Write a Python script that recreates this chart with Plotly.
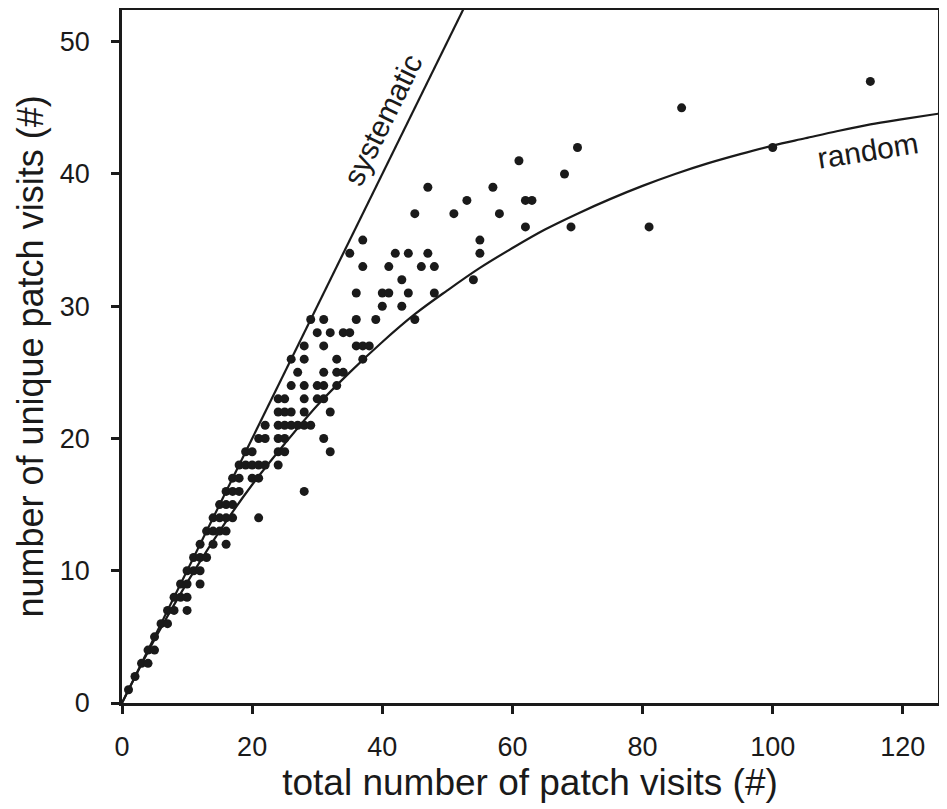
import plotly.graph_objects as go

rows = {
    1: [1], 2: [2], 3: [3, 4], 4: [4, 5], 5: [5], 6: [6, 7], 7: [7, 8, 10],
    8: [8, 9, 10], 9: [9, 10, 12], 10: [10, 11, 12], 11: [11, 12, 13], 12: [12, 14, 16],
    13: [13, 14, 15, 16], 14: [14, 15, 16, 17, 21], 15: [15, 16, 17], 16: [16, 17, 18, 28],
    17: [17, 18, 20, 21], 18: [18, 19, 20, 21, 22, 24], 19: [19, 20, 24, 25, 32],
    20: [21, 22, 24, 25, 31], 21: [22, 24, 25, 26, 27, 28, 29], 22: [24, 25, 26, 28, 32],
    23: [24, 25, 28, 30, 31], 24: [26, 28, 30, 31, 33], 25: [27, 31, 33, 34],
    26: [26, 28, 33, 37], 27: [28, 31, 36, 37, 38], 28: [30, 32, 34, 35],
    29: [29, 31, 36, 39, 45], 30: [40, 43], 31: [36, 40, 41, 44, 48], 32: [43, 54],
    33: [37, 41, 46, 48], 34: [35, 42, 44, 47, 55], 35: [37, 55], 36: [62, 69, 81],
    37: [45, 51, 58], 38: [53, 62, 63], 39: [47, 57], 40: [68], 41: [61],
    42: [70, 100], 45: [86], 47: [115],
}
obs_x = [x for y, xs in rows.items() for x in xs]
obs_y = [y for y, xs in rows.items() for x in xs]

# "systematic" reference line (every visit is a new patch)
sys_x = [0, 60]
sys_y = [0, 60]

# "random" reference curve
rand_x = [0, 5, 10, 15, 20, 25, 30, 35, 40, 45, 50, 55, 60, 65, 70, 75, 80, 85, 90,
          95, 100, 105, 110, 115, 120, 126]
rand_y = [0, 4.8, 9.1, 13.0, 16.5, 19.6, 22.5, 25.0, 27.3, 29.4, 31.2, 32.9, 34.4, 35.8,
          37.0, 38.1, 39.1, 40.0, 40.8, 41.5, 42.15, 42.7, 43.25, 43.75, 44.15, 44.6]

x_ticks = [0, 20, 40, 60, 80, 100, 120]
y_ticks = [0, 10, 20, 30, 40, 50]

FONT = "Liberation Sans"
INK = "#1a1a1a"

fig = go.Figure()
fig.add_trace(go.Scatter(x=sys_x, y=sys_y, mode="lines",
                         line=dict(color=INK, width=2.2), hoverinfo="skip", showlegend=False))
fig.add_trace(go.Scatter(x=rand_x, y=rand_y, mode="lines", line_shape="spline",
                         line=dict(color=INK, width=2.2), hoverinfo="skip", showlegend=False))
fig.add_trace(go.Scatter(x=obs_x, y=obs_y, mode="markers",
                         marker=dict(color=INK, size=9, line=dict(width=0)), showlegend=False))

fig.add_annotation(x=40.1, y=44.1, text="systematic", showarrow=False, textangle=-63.8,
                   font=dict(family=FONT, size=30, color=INK))
fig.add_annotation(x=114.6, y=41.8, text="random", showarrow=False, textangle=-9,
                   font=dict(family=FONT, size=30, color=INK))

axis_common = dict(showgrid=False, zeroline=False, showline=True, linecolor=INK, linewidth=2.5,
                   mirror=True, ticks="outside", ticklen=8, tickwidth=2.5, tickcolor=INK,
                   tickfont=dict(family=FONT, size=27, color=INK))
fig.update_xaxes(range=[0, 125.4], tickvals=x_ticks, ticktext=[str(v) for v in x_ticks],
                 title=dict(text="total number of patch visits (#)",
                            font=dict(family=FONT, size=37, color=INK), standoff=0),
                 ticklabelstandoff=10, **axis_common)
fig.update_yaxes(range=[0, 52.4], tickvals=y_ticks, ticktext=[str(v) for v in y_ticks],
                 title=dict(text="number of unique patch visits (#)",
                            font=dict(family=FONT, size=36, color=INK), standoff=6),
                 ticklabelstandoff=16, **axis_common)

# page body has an 8 px margin, so the figure is sized to fit the 947x809 window
fig.update_layout(width=939, height=801, margin=dict(l=114, r=9, t=2, b=106, autoexpand=False),
                  plot_bgcolor="white", paper_bgcolor="white")

fig.write_html("out.html")
